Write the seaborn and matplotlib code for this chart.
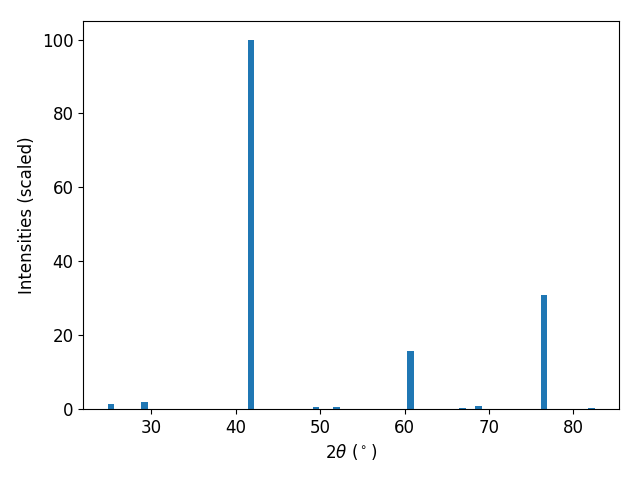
import matplotlib
matplotlib.use("Agg")
import matplotlib.pyplot as plt
import seaborn as sns

# XRD peak positions (2theta, degrees) and scaled intensities
two_theta = [25.2, 29.2, 41.8, 49.5, 51.9, 60.7, 66.9, 68.75, 76.5, 82.1]
intensity = [1.35, 1.9, 100.0, 0.5, 0.5, 15.7, 0.3, 0.8, 30.9, 0.3]

plt.rcParams.update({
    'font.size': 12,
})

color = sns.color_palette("tab10")[0]

fig, ax = plt.subplots(figsize=(6.4, 4.8), dpi=100)
ax.bar(two_theta, intensity, width=0.8, color=color)
ax.set_xlabel(r'$2\theta$ ($^\circ$)')
ax.set_ylabel('Intensities (scaled)')

fig.subplots_adjust(left=0.130, right=0.967, top=0.956, bottom=0.148)
plt.savefig('out.png')
